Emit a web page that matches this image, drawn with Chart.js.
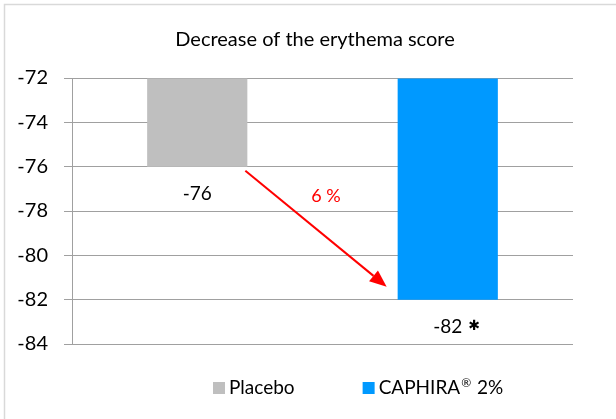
<!DOCTYPE html>
<html>
<head>
<meta charset="utf-8">
<script src="https://cdn.jsdelivr.net/npm/chart.js@4"></script>
<style>
  html, body { margin: 0; padding: 0; background: #fff; }
  #wrap { width: 616px; height: 419px; position: relative; }
</style>
</head>
<body>
<div id="wrap"><canvas id="chart"></canvas></div>
<script>
    const categories = ['Placebo', 'CAPHIRA® 2%'];
    const scores = [-76, -82];
    const valueLabels = ['-76', '-82'];
    const significance = ['', '✱'];
    const barColors = ['#bfbfbf', '#0099ff'];
    const arrowLabel = '6 %';
    const chartTitle = 'Decrease of the erythema score';
    const axisMin = -84, axisMax = -72, axisStep = 2;

    const FONT = 'Lato, "Liberation Sans", sans-serif';

    // legend text with a raised, smaller ® sign
    function drawLegendText(ctx, text, x, y) {
        const parts = text.split('®');
        ctx.font = '19px ' + FONT;
        ctx.fillText(parts[0], x, y);
        let w = ctx.measureText(parts[0]).width;
        if (parts.length > 1) {
            ctx.font = '12px ' + FONT;
            ctx.fillText('®', x + w + 1, y - 5);
            w += ctx.measureText('®').width + 2;
            ctx.font = '19px ' + FONT;
            ctx.fillText(parts[1], x + w, y);
            w += ctx.measureText(parts[1]).width;
        }
        return w;
    }

    // frame, title, value labels, arrow and legend
    const decorations = {
        id: 'decorations',
        beforeDraw(chart) {
            const ctx = chart.ctx;
            ctx.save();
            ctx.strokeStyle = '#d9d9d9';
            ctx.lineWidth = 1.5;
            ctx.beginPath();
            ctx.moveTo(4.5, 419);
            ctx.lineTo(4.5, 4.5);
            ctx.lineTo(616, 4.5);
            ctx.stroke();
            ctx.restore();
        },
        afterDraw(chart) {
            const ctx = chart.ctx;
            const y = chart.scales.y;
            const bars = chart.getDatasetMeta(0).data;
            ctx.save();

            ctx.fillStyle = '#000';
            ctx.textAlign = 'center';
            ctx.textBaseline = 'middle';
            ctx.font = '20px ' + FONT;
            ctx.fillText(chartTitle, 315, 40);

            ctx.font = '19px ' + FONT;
            bars.forEach((bar, i) => {
                const ty = y.getPixelForValue(scores[i]) + 27;
                ctx.textAlign = 'center';
                ctx.fillText(valueLabels[i], bar.x, ty);
                if (significance[i]) {
                    const w = ctx.measureText(valueLabels[i]).width;
                    ctx.textAlign = 'left';
                    ctx.font = 'bold 14px "DejaVu Sans", sans-serif';
                    ctx.fillText(significance[i], bar.x + w / 2 + 6, ty);
                    ctx.font = '19px ' + FONT;
                }
            });

            // arrow from placebo bar bottom to caphira level
            const p0 = bars[0], p1 = bars[1];
            const x0 = p0.x + p0.width / 2 - 2, y0 = y.getPixelForValue(scores[0]) + 4;
            const x1 = p1.x - p1.width / 2 - 11, y1 = y.getPixelForValue(scores[1]) - 13;
            const ang = Math.atan2(y1 - y0, x1 - x0);
            const head = 17, half = 7;
            const bx = x1 - head * Math.cos(ang), by = y1 - head * Math.sin(ang);
            ctx.strokeStyle = '#ff0000';
            ctx.fillStyle = '#ff0000';
            ctx.lineWidth = 2;
            ctx.beginPath();
            ctx.moveTo(x0, y0);
            ctx.lineTo(bx, by);
            ctx.stroke();
            ctx.beginPath();
            ctx.moveTo(x1, y1);
            ctx.lineTo(bx + half * Math.sin(ang), by - half * Math.cos(ang));
            ctx.lineTo(bx - half * Math.sin(ang), by + half * Math.cos(ang));
            ctx.closePath();
            ctx.fill();

            ctx.font = '18px ' + FONT;
            ctx.textAlign = 'center';
            ctx.fillText(arrowLabel, 326, 196);

            // legend
            ctx.textAlign = 'left';
            let lx = 213;
            const ly = 388;
            categories.forEach((c, i) => {
                ctx.fillStyle = barColors[i];
                ctx.fillRect(lx, ly - 6, 12, 12);
                ctx.fillStyle = '#000';
                const w = drawLegendText(ctx, c, lx + 16, ly);
                lx += 16 + w + 68;
            });
            ctx.restore();
        }
    };

    new Chart(document.getElementById('chart'), {
        type: 'bar',
        data: {
            labels: categories,
            datasets: [{
                data: scores,
                base: axisMax,
                backgroundColor: barColors,
                borderWidth: 0,
                barPercentage: 0.4,
                categoryPercentage: 1
            }]
        },
        options: {
            responsive: true,
            maintainAspectRatio: false,
            animation: false,
            layout: { padding: { top: 78, right: 43, bottom: 75, left: 0 } },
            plugins: {
                legend: { display: false },
                title: { display: false },
                tooltip: { enabled: false }
            },
            scales: {
                x: { display: false },
                y: {
                    min: axisMin,
                    max: axisMax,
                    afterFit(scale) { scale.width = 72; },
                    ticks: {
                        stepSize: axisStep,
                        padding: 16,
                        color: '#000',
                        font: { family: FONT, size: 20 }
                    },
                    grid: { color: '#a0a0a0', tickLength: 8, lineWidth: 1 },
                    border: { color: '#a0a0a0' }
                }
            }
        },
        plugins: [decorations]
    });
</script>
</body>
</html>
